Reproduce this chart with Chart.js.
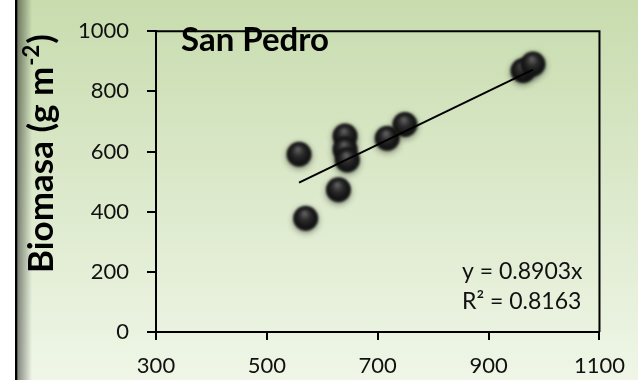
<!DOCTYPE html>
<html>
<head>
<meta charset="utf-8">
<script src="https://cdn.jsdelivr.net/npm/chart.js@4/dist/chart.umd.min.js"></script>
<style>
  html, body { margin: 0; padding: 0; background: #fff; }
  canvas { display: block; }
</style>
</head>
<body>
<canvas id="biomasaChart" width="638" height="380"></canvas>
<script>
// Biomasa points for San Pedro
const xValues = [558, 570, 629, 641, 641, 645, 717, 749, 962, 980];
const yValues = [591, 378, 473, 652, 607, 572, 644, 690, 869, 891];
const xTicks = [300, 500, 700, 900, 1100];
const yTicks = [0, 200, 400, 600, 800, 1000];
// trend line through the origin, as printed on the chart
const slope = 0.8903;
const rSquared = 0.8163;
const siteName = 'San Pedro';

const FONT = 'Lato';

// black shaded ball used as point marker
function makeBall(r) {
  const size = Math.ceil(r * 2 + 16);
  const c = document.createElement('canvas');
  c.width = size;
  c.height = size;
  const g = c.getContext('2d');
  const cx = size / 2, cy = size / 2;
  g.filter = 'blur(0.8px)';
  g.shadowColor = 'rgba(0,0,0,0.45)';
  g.shadowBlur = 6;
  g.shadowOffsetY = 2;
  const grad = g.createRadialGradient(cx - r * 0.1, cy - r * 0.45, 0, cx, cy, r);
  grad.addColorStop(0, '#6a6a6a');
  grad.addColorStop(0.45, '#2a2a2a');
  grad.addColorStop(0.85, '#111111');
  grad.addColorStop(1, '#1c1c1c');
  g.fillStyle = grad;
  g.beginPath();
  g.arc(cx, cy, r, 0, Math.PI * 2);
  g.fill();
  return c;
}

const points = xValues.map((x, i) => ({ x: x, y: yValues[i] }));
const xMin = Math.min(...xValues);
const xMax = Math.max(...xValues);
const trend = [
  { x: xMin, y: slope * xMin },
  { x: xMax, y: slope * xMax }
];

// background and left frame
const backdrop = {
  id: 'backdrop',
  beforeDraw(chart) {
    const ctx = chart.ctx;
    const w = chart.width, h = chart.height;
    ctx.save();
    const bg = ctx.createLinearGradient(0, 0, 0, h);
    bg.addColorStop(0, '#c8dcae');
    bg.addColorStop(0.5, '#dce9cb');
    bg.addColorStop(1, '#eff6e7');
    ctx.fillStyle = bg;
    ctx.fillRect(0, 0, w, h);
    ctx.fillStyle = '#ffffff';
    ctx.fillRect(0, 0, 15, h);
    ctx.fillStyle = '#000000';
    ctx.fillRect(15, 0, 2.5, h);
    const sh = ctx.createLinearGradient(17.5, 0, 32, 0);
    sh.addColorStop(0, 'rgba(0,0,0,0.45)');
    sh.addColorStop(1, 'rgba(0,0,0,0)');
    ctx.fillStyle = sh;
    ctx.fillRect(17.5, 0, 14.5, h);
    ctx.restore();
  }
};

// frame box, labels and y axis title with superscript
const overlay = {
  id: 'overlay',
  afterDraw(chart) {
    const ctx = chart.ctx;
    const a = chart.chartArea;
    ctx.save();
    ctx.strokeStyle = '#000';
    ctx.lineWidth = 2;
    ctx.beginPath();
    ctx.moveTo(a.left, a.top);
    ctx.lineTo(a.right, a.top);
    ctx.lineTo(a.right, a.bottom);
    ctx.stroke();

    ctx.fillStyle = '#000';
    ctx.textBaseline = 'alphabetic';
    ctx.textAlign = 'left';
    ctx.font = 'bold 33px ' + FONT;
    ctx.fillText(siteName, 181, 51);

    ctx.fillStyle = '#111';
    ctx.font = '23px ' + FONT;
    ctx.fillText('y = ' + slope + 'x', 462, 279);
    ctx.fillText('R\u00B2 = ' + rSquared, 462, 309);

    // rotated axis title
    ctx.fillStyle = '#000';
    ctx.translate(53, 273);
    ctx.rotate(-Math.PI / 2);
    ctx.font = 'bold 35px ' + FONT;
    const main = 'Biomasa (g m';
    ctx.fillText(main, 0, 0);
    let pos = ctx.measureText(main).width;
    ctx.font = 'bold 22px ' + FONT;
    ctx.fillText('-2', pos + 1, -14);
    pos += ctx.measureText('-2').width + 2;
    ctx.font = 'bold 35px ' + FONT;
    ctx.fillText(')', pos, 0);
    ctx.restore();
  }
};

function setTicks(values) {
  return function (scale) {
    scale.ticks = values.map(v => ({ value: v }));
  };
}

function buildChart() {
  const ctx = document.getElementById('biomasaChart').getContext('2d');
  new Chart(ctx, {
    type: 'scatter',
    data: {
      datasets: [
        {
          label: 'trend',
          data: trend,
          showLine: true,
          borderColor: '#000',
          borderWidth: 2,
          pointRadius: 0,
          order: 0
        },
        {
          label: siteName,
          data: points,
          pointStyle: makeBall(12.5),
          pointRadius: 12,
          order: 1
        }
      ]
    },
    options: {
      responsive: false,
      animation: false,
      layout: { padding: { left: 0, top: 21, right: 31, bottom: 0 } },
      plugins: {
        legend: { display: false },
        tooltip: { enabled: false }
      },
      scales: {
        x: {
          type: 'linear',
          min: 300,
          max: 1100,
          afterBuildTicks: setTicks(xTicks),
          afterFit(scale) { scale.height = 48; },
          grid: { drawOnChartArea: false, tickLength: 8, color: '#000', lineWidth: 2 },
          border: { color: '#000', width: 2 },
          ticks: {
            color: '#111', padding: 13, font: { family: FONT, size: 22 },
            callback: v => String(v)
          }
        },
        y: {
          min: 0,
          max: 1000,
          afterBuildTicks: setTicks(yTicks),
          afterFit(scale) { scale.width = 156; },
          grid: { drawOnChartArea: false, tickLength: 9, color: '#000', lineWidth: 2 },
          border: { color: '#000', width: 2 },
          ticks: {
            color: '#111', padding: 18, font: { family: FONT, size: 22 },
            callback: v => String(v)
          }
        }
      }
    },
    plugins: [backdrop, overlay]
  });
}

Promise.all([
  document.fonts.load('22px Lato'),
  document.fonts.load('bold 35px Lato')
]).then(buildChart, buildChart);
</script>
</body>
</html>
